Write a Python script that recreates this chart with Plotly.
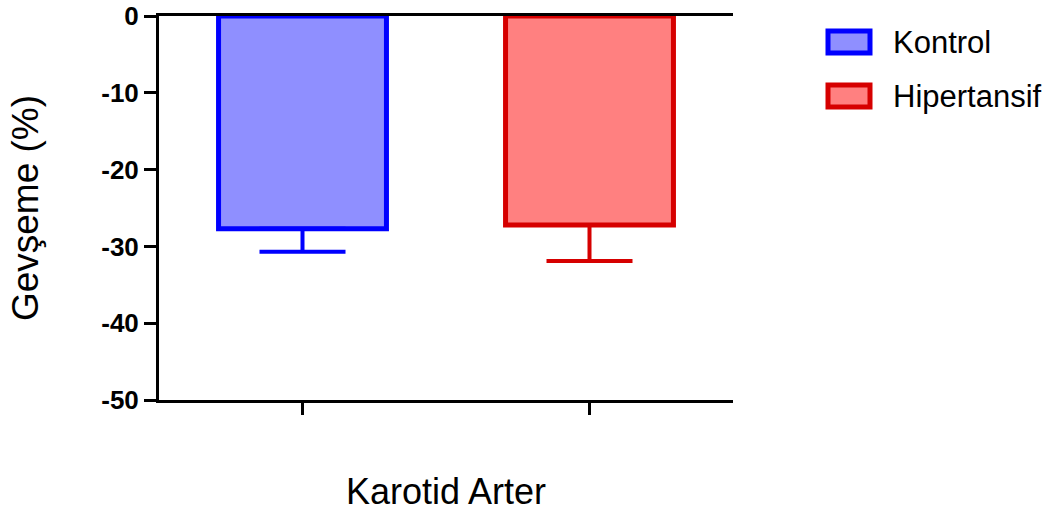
import plotly.graph_objects as go

# Relaxation (%) of the carotid artery, mean with one-sided SEM
groups = ["Kontrol", "Hipertansif"]
means = [-27.7, -27.2]
sems = [3.0, 4.7]
fill_colors = ["#8f8fff", "#ff8080"]
line_colors = ["#0000ff", "#d60000"]

y_ticks = [0, -10, -20, -30, -40, -50]

W, H = 1055, 516
L, R, T, B = 159, 322, 16, 116
plot_w = W - L - R
plot_h = H - T - B

fig = go.Figure()
for i, (name, m, s, fc, lc) in enumerate(zip(groups, means, sems, fill_colors, line_colors)):
    fig.add_trace(go.Bar(
        x=[i], y=[m], name=name, width=0.585,
        marker=dict(color=fc, line=dict(color=lc, width=5)),
        error_y=dict(type="data", symmetric=False, array=[0], arrayminus=[s],
                     color=lc, thickness=4, width=43),
        showlegend=False,
    ))

fig.update_layout(
    width=W, height=H,
    margin=dict(l=L, r=R, t=T, b=B, pad=0, autoexpand=False),
    paper_bgcolor="white", plot_bgcolor="white",
    barmode="overlay",
    font=dict(family="Liberation Sans, Arial, sans-serif", color="black"),
)

fig.update_xaxes(
    range=[-0.5, 1.5], tickvals=[0, 1], showticklabels=False,
    ticks="outside", ticklen=12, tickwidth=3, tickcolor="black",
    showline=True, linecolor="black", linewidth=3, mirror=True,
    showgrid=False, zeroline=False, automargin=False,
    title=dict(text="Karotid Arter", font=dict(size=36), standoff=65),
)
fig.update_yaxes(
    range=[-50, 0], tickvals=y_ticks, ticktext=[str(v) for v in y_ticks],
    ticks="outside", ticklen=12, tickwidth=3, tickcolor="black",
    tickfont=dict(size=26, weight="bold"),
    showline=True, linecolor="black", linewidth=3,
    showgrid=False, zeroline=False, automargin=False,
    title=dict(text="Gevşeme (%)", font=dict(size=37), standoff=52),
)

# Legend: outlined swatches with labels to the right of the plot
def px_x(px):
    return (px - L) / plot_w

def px_y(py):
    return 1 - (py - T) / plot_h

legend_rows = [42, 96]
for name, fc, lc, cy in zip(groups, fill_colors, line_colors, legend_rows):
    fig.add_shape(type="rect", xref="paper", yref="paper",
                  x0=px_x(828), x1=px_x(870), y0=px_y(cy - 11), y1=px_y(cy + 11),
                  fillcolor=fc, line=dict(color=lc, width=5))
    fig.add_annotation(text=name, xref="paper", yref="paper",
                       x=px_x(891), y=px_y(cy), xanchor="left", yanchor="middle",
                       showarrow=False, font=dict(size=31, color="black"))

fig.write_html("out.html")
